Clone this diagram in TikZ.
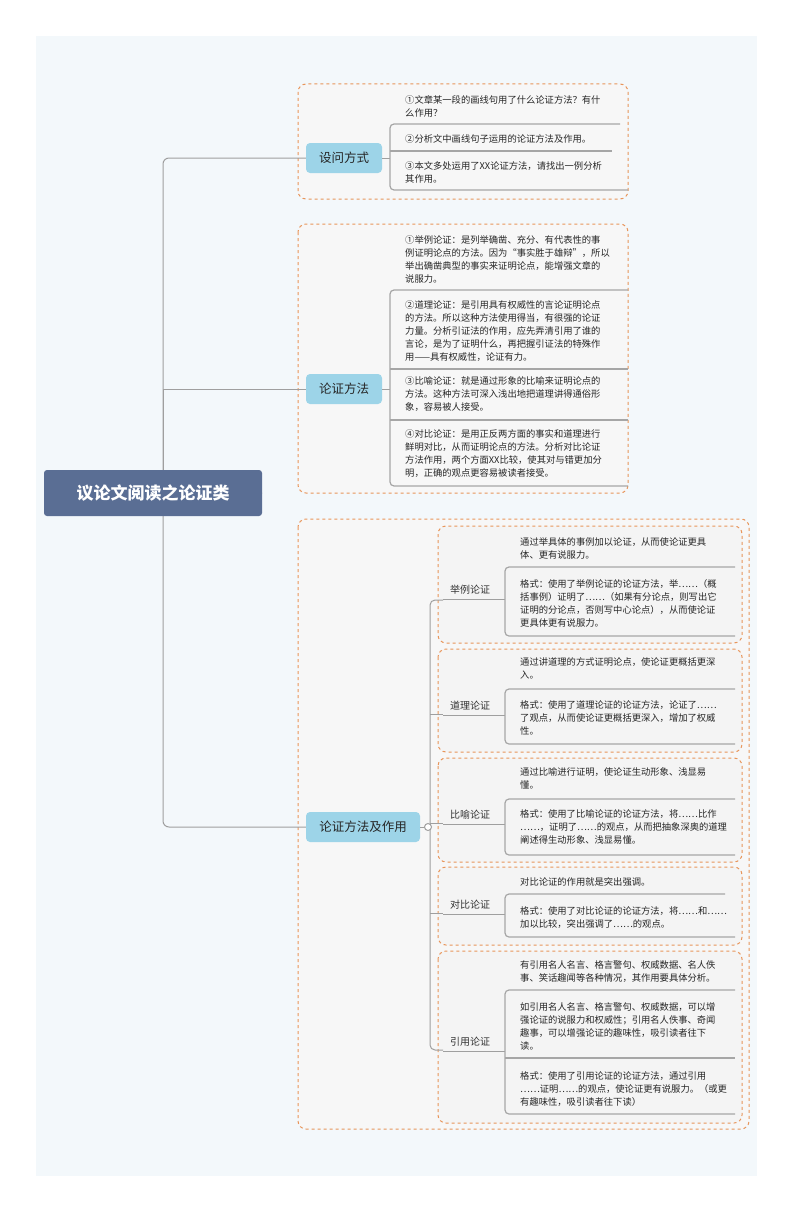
\documentclass[tikz,border=0pt]{standalone}
\usepackage{fontspec}
\setmainfont{Noto Sans CJK SC}
\definecolor{rootc}{HTML}{5A6E94}
\definecolor{topc}{HTML}{9DD4E8}
\definecolor{dashc}{HTML}{E8955A}
\definecolor{bgc}{HTML}{F3F8FB}
\begin{document}
\begin{tikzpicture}[x=1pt,y=-1pt,
  ln/.style={draw=gray!75,line width=1pt},
  ul/.style={draw=gray!70,line width=1.2pt,rounded corners=4pt},
  dbox/.style={draw=dashc,dashed,line width=1pt,rounded corners=8pt,fill=gray!6},
  itm/.style={anchor=north west,inner sep=0,align=left,font=\fontsize{9.3}{13}\selectfont,text=black!85},
  topic/.style={fill=topc,rounded corners=4pt,font=\fontsize{12.5}{14}\selectfont,text=black!85,inner sep=0,minimum height=30},
  lab/.style={anchor=center,inner sep=0,font=\fontsize{10}{12}\selectfont,text=black!80}]
\useasboundingbox (0,0) rectangle (794,1212);
\fill[white] (0,0) rectangle (794,1212);
\fill[bgc] (36,36) rectangle (757,1176);
% dashed boxes
\draw[dbox] (298,84) rectangle (628,199);
\draw[dbox] (298,224) rectangle (628,493);
\draw[dbox] (298,519) rectangle (749,1129);
\foreach \a/\b in {526/643,649/752,758/862,867/945,951/1123}
  \draw[dbox,fill=gray!9] (438,\a) rectangle (742,\b);
% root
\draw[ln,rounded corners=6pt] (262,493) -- (163,493) -- (163,158) -- (306,158);
\draw[ln] (163,493) -- (163,389) -- (306,389);
\draw[ln,rounded corners=6pt] (163,493) -- (163,827) -- (306,827);
\node[fill=rootc,rounded corners=3pt,minimum width=218,minimum height=46,inner sep=0,text=white,font=\fontsize{17}{20}\bfseries\selectfont] (root) at (153,493) {议论文阅读之论证类};
\node[topic,minimum width=76] (t1) at (344,158) {设问方式};
\node[topic,minimum width=76] (t2) at (344,389) {论证方法};
\node[topic,minimum width=114] (t3) at (363,827) {论证方法及作用};
% group 1
\draw[ln] (t1.east) -- (390,158);
\draw[ul] (620,124) -- (390,124) -- (390,190) -- (628,190);
\draw[ul] (390,151) -- (612,151);
\node[itm] at (405,95) {①文章某一段的画线句用了什么论证方法？有什\\么作用？};
\node[itm] at (405,134) {②分析文中画线句子运用的论证方法及作用。};
\node[itm] at (405,161) {③本文多处运用了XX论证方法，请找出一例分析\\其作用。};
% group 2
\draw[ln] (t2.east) -- (390,389);
\draw[ul] (628,290) -- (390,290) -- (390,486) -- (628,486);
\draw[ul] (390,369) -- (628,369);
\draw[ul] (390,420) -- (628,420);
\node[itm] at (405,235) {①举例论证：是列举确凿、充分、有代表性的事\\例证明论点的方法。因为“事实胜于雄辩”，所以\\举出确凿典型的事实来证明论点，能增强文章的\\说服力。};
\node[itm] at (405,300) {②道理论证：是引用具有权威性的言论证明论点\\的方法。所以这种方法使用得当，有很强的论证\\力量。分析引证法的作用，应先弄清引用了谁的\\言论，是为了证明什么，再把握引证法的特殊作\\用——具有权威性，论证有力。};
\node[itm] at (405,376) {③比喻论证：就是通过形象的比喻来证明论点的\\方法。这种方法可深入浅出地把道理讲得通俗形\\象，容易被人接受。};
\node[itm] at (405,429) {④对比论证：是用正反两方面的事实和道理进行\\鲜明对比，从而证明论点的方法。分析对比论证\\方法作用，两个方面XX比较，使其对与错更加分\\明，正确的观点更容易被读者接受。};
% group 3
\draw[ln] (t3.east) -- (430,827);
\draw[ln,rounded corners=5pt] (443,600) -- (430,600) -- (430,1050) -- (443,1050);
\draw[ln,fill=white] (428,827) circle (3.5);
\foreach \y in {714,823,913} \draw[ln] (430,\y) -- (443,\y);
\foreach \y/\t in {590/举例论证,706/道理论证,815/比喻论证,905/对比论证,1042/引用论证}
  {\node[lab] at (470,\y) {\t}; \draw[ln] (443,\y+9) -- (505,\y+9);}
% sub 1
\draw[ul] (735,567) -- (505,567) -- (505,636) -- (735,636);
\node[itm] at (520,537) {通过举具体的事例加以论证，从而使论证更具\\体、更有说服力。};
\node[itm] at (520,579) {格式：使用了举例论证的论证方法，举……（概\\括事例）证明了……（如果有分论点，则写出它\\证明的分论点，否则写中心论点），从而使论证\\更具体更有说服力。};
% sub 2
\draw[ul] (735,689) -- (505,689) -- (505,744) -- (735,744);
\node[itm] at (520,657) {通过讲道理的方式证明论点，使论证更概括更深\\入。};
\node[itm] at (520,700) {格式：使用了道理论证的论证方法，论证了……\\了观点，从而使论证更概括更深入，增加了权威\\性。};
% sub 3
\draw[ul] (735,799) -- (505,799) -- (505,855) -- (735,855);
\node[itm] at (520,767) {通过比喻进行证明，使论证生动形象、浅显易\\懂。};
\node[itm] at (520,809) {格式：使用了比喻论证的论证方法，将……比作\\……，证明了……的观点，从而把抽象深奥的道理\\阐述得生动形象、浅显易懂。};
% sub 4
\draw[ul] (725,894) -- (505,894) -- (505,937) -- (735,937);
\node[itm] at (520,877) {对比论证的作用就是突出强调。};
\node[itm] at (520,906) {格式：使用了对比论证的论证方法，将……和……\\加以比较，突出强调了……的观点。};
% sub 5
\draw[ul] (735,990) -- (505,990) -- (505,1114) -- (735,1114);
\draw[ul] (505,1058) -- (735,1058);
\node[itm] at (520,960) {有引用名人名言、格言警句、权威数据、名人佚\\事、笑话趣闻等各种情况，其作用要具体分析。};
\node[itm] at (520,1002) {如引用名人名言、格言警句、权威数据，可以增\\强论证的说服力和权威性；引用名人佚事、奇闻\\趣事，可以增强论证的趣味性，吸引读者往下\\读。};
\node[itm] at (520,1071) {格式：使用了引用论证的论证方法，通过引用\\……证明……的观点，使论证更有说服力。（或更\\有趣味性，吸引读者往下读）};
\end{tikzpicture}
\end{document}
